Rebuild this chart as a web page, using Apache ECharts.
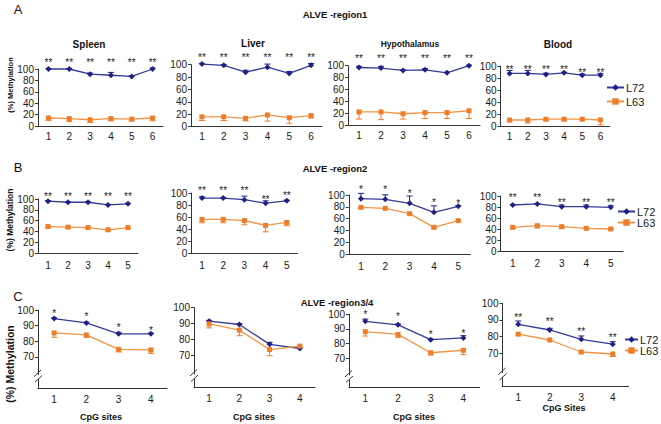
<!DOCTYPE html>
<html><head><meta charset="utf-8">
<script src="https://cdn.jsdelivr.net/npm/echarts@6/dist/echarts.min.js"></script>
<style>html,body{margin:0;padding:0;background:#fff}#c{width:661px;height:424px}</style>
</head><body><div id="c"></div>
<script>
// ---------- categories / labels ----------
const sitesA = ['1','2','3','4','5','6'];
const sitesB = ['1','2','3','4','5'];
const sitesC = ['1','2','3','4'];
const panelTitlesA = ['Spleen','Liver','Hypothalamus','Blood'];
const rowTitles = ['ALVE -region1','ALVE -region2','ALVE -region3/4'];
const rowLetters = ['A','B','C'];
const seriesNames = ['L72','L63'];
const yAxisName = '(%) Methylation';
const xAxisNamesC = ['CpG sites','CpG sites','CpG sites','CpG Sites'];
const ticksC = [70,80,90,100];

// ---------- data: row A (ALVE-region1) ----------
const spleenL72 = [100, 100, 91, 89, 87, 100];
const spleenL72Err = [1, 1, 2, 5, 1, 2];
const spleenL63 = [14, 13, 11, 13, 12, 14];
const spleenL63Err = [4, 5, 5, 4, 3, 5];
const spleenStarY = [116, 116, 116, 116, 116, 116];

const liverL72 = [101, 99, 88, 96, 86, 99];
const liverL72Err = [1, 1, 3, 5, 3, 3];
const liverL63 = [16, 16, 13.5, 19, 14.5, 18];
const liverL63Err = [6, 6, 4, 10, 9, 4];
const liverStarY = [117, 117, 117, 117, 117, 117];

const hypoL72 = [97, 96, 92, 93, 88, 100];
const hypoL72Err = [2, 3, 1, 2, 1, 1];
const hypoL63 = [22, 22, 19, 21, 21, 24];
const hypoL63Err = [12, 13, 9, 10, 10, 13];
const hypoStarY = [118, 118, 118, 118, 118, 118];

const bloodL72 = [87.6, 87.6, 86, 88.6, 84.7, 84.7];
const bloodL72Err = [5, 5, 2, 1, 2, 3];
const bloodL63 = [10, 10, 11.3, 11.3, 11.3, 10];
const bloodL63Err = [3, 5, 2, 2, 1, 8];
const bloodStarY = [100, 100, 100, 100, 95, 95];

// ---------- data: row B (ALVE-region2) ----------
const b1L72 = [96, 94, 94, 89, 91];
const b1L72Err = [1, 1, 1, 1, 1];
const b1L63 = [49, 48, 47, 43, 47];
const b1L63Err = [2, 2, 2, 2, 1];
const b1StarY = [111, 111, 111, 111, 111];

const b2L72 = [91.6, 91.6, 88.8, 83, 87];
const b2L72Err = [2, 1, 6, 4, 1];
const b2L63 = [56, 56, 54, 46, 51];
const b2L63Err = [5.6, 5.6, 7, 10.7, 5.6];
const b2StarY = [109, 109, 109, 94, 101];

const b3L72 = [93.8, 92.7, 85.9, 70.6, 80.8];
const b3L72Err = [9, 7.6, 12.4, 11, 1];
const b3L63 = [79, 77.4, 68.4, 45.2, 56.5];
const b3L63Err = [1, 1, 1, 1, 1];
const b3StarY = [115, 115, 108, 93, 91];

const b4L72 = [83.6, 85.5, 80.6, 80.6, 79.4];
const b4L72Err = [1, 1, 3, 3, 3];
const b4L63 = [43, 46, 44.2, 41.2, 40];
const b4L63Err = [2, 4, 3, 1, 1];
const b4StarY = [102, 102, 94.5, 94.5, 94.5];

// ---------- data: row C (ALVE-region3/4) ----------
const c1L72 = [94.5, 91.7, 84.7, 84.7];
const c1L72Err = [0.5, 0.5, 1, 0.5];
const c1L63 = [85.3, 84, 74.8, 74.4];
const c1L63Err = [2.8, 1.5, 1.7, 2.2];
const c1StarY = [99.6, 98, 90.8, 88.8];

const c2L72 = [91.6, 89.5, 77.1, 74.5];
const c2L72Err = [0.5, 0.5, 1.2, 0.5];
const c2L63 = [89.9, 86, 73.8, 76];
const c2L63Err = [2.5, 3.5, 3.8, 0.5];
const c2StarY = [];

const c3L72 = [95.2, 92.8, 82.7, 83.9];
const c3L72Err = [1.5, 0.5, 0.5, 1.5];
const c3L63 = [88.2, 86.3, 73.8, 75.5];
const c3L63Err = [3, 2, 1.5, 3];
const c3StarY = [101.9, 100.7, 88, 88.7];

const c4L72 = [87.4, 84, 78.4, 75.5];
const c4L72Err = [2, 1, 2, 1.5];
const c4L63 = [81.5, 78, 70.8, 69.6];
const c4L63Err = [0.5, 0.5, 0.5, 1.5];
const c4StarY = [93.3, 90.6, 84.7, 81.2];

const starTexts = ['**','**','**','**','**','**','*','**','*','','*','**'];

// ---------- assembling ----------
const panels = [
  [sitesA, spleenL72, spleenL72Err, spleenL63, spleenL63Err, spleenStarY],
  [sitesA, liverL72, liverL72Err, liverL63, liverL63Err, liverStarY],
  [sitesA, hypoL72, hypoL72Err, hypoL63, hypoL63Err, hypoStarY],
  [sitesA, bloodL72, bloodL72Err, bloodL63, bloodL63Err, bloodStarY],
  [sitesB, b1L72, b1L72Err, b1L63, b1L63Err, b1StarY],
  [sitesB, b2L72, b2L72Err, b2L63, b2L63Err, b2StarY],
  [sitesB, b3L72, b3L72Err, b3L63, b3L63Err, b3StarY],
  [sitesB, b4L72, b4L72Err, b4L63, b4L63Err, b4StarY],
  [sitesC, c1L72, c1L72Err, c1L63, c1L63Err, c1StarY],
  [sitesC, c2L72, c2L72Err, c2L63, c2L63Err, c2StarY],
  [sitesC, c3L72, c3L72Err, c3L63, c3L63Err, c3StarY],
  [sitesC, c4L72, c4L72Err, c4L63, c4L63Err, c4StarY]
];

// layout (pixels)
const gridBoxes = [
  [38,69,125,57],[191,64.7,131,62],[348,65.7,132,59.3],[500.5,66,109,60],
  [38,199,100,54],[191.4,193,106,60],[348.8,195,121.6,59],[500.5,196,122.5,55],
  [38,310,129,78],[194,307.7,121,80],[349,314.3,130.7,73.4],[502.5,303.3,126,83.4]
];
const BLUE = '#353A98', BLUE_D = '#1E2180', ORANGE = '#F39445', ORANGE_D = '#EE7D2A';
const FONT = 'Liberation Sans, Arial, sans-serif';
const TXT = '#1a1a1a';

function errRender(dir, color) {
  return function (params, api) {
    const x = api.value(0), v = api.value(1), e = api.value(2);
    const p0 = api.coord([x, v]);
    const p1 = api.coord([x, v + dir * e]);
    const hw = 3;
    return {type: 'group', children: [
      {type: 'line', shape: {x1: p0[0], y1: p0[1], x2: p1[0], y2: p1[1]}, style: {stroke: color, lineWidth: 1}},
      {type: 'line', shape: {x1: p1[0] - hw, y1: p1[1], x2: p1[0] + hw, y2: p1[1]}, style: {stroke: color, lineWidth: 1}}
    ]};
  };
}

function starRender(text) {
  return function (params, api) {
    const p = api.coord([api.value(0), api.value(1)]);
    return {type: 'text', x: p[0], y: p[1] + 3,
      style: {text: text, fontSize: 10, fontFamily: FONT, fill: '#222',
        align: 'center', verticalAlign: 'middle'}};
  };
}

const grids = [], xAxes = [], yAxes = [], series = [];
panels.forEach((p, i) => {
  const [cats, l72, l72e, l63, l63e, starY] = p;
  const row = Math.floor(i / 4);
  const b = gridBoxes[i];
  grids.push({left: b[0], top: b[1], width: b[2], height: b[3], containLabel: false});
  xAxes.push({
    type: 'category', gridIndex: i, data: cats, boundaryGap: true,
    axisLine: {lineStyle: {color: '#333', width: 1}},
    axisTick: {length: 3, lineStyle: {color: '#333'}},
    axisLabel: {fontSize: 10, color: TXT, fontFamily: FONT, margin: row === 0 ? 5 : (row === 1 ? 7 : 6)}
  });
  const y = {
    type: 'value', gridIndex: i, splitLine: {show: false},
    axisLine: {show: true, lineStyle: {color: '#333', width: 1}},
    axisTick: {show: true, length: 3, lineStyle: {color: '#333'}},
    axisLabel: {fontSize: 10, color: TXT, fontFamily: FONT, margin: 4}
  };
  if (row < 2) { y.min = 0; y.max = 100; y.interval = 20; }
  else {
    y.min = 50; y.max = 100; y.interval = 10;
    y.axisTick.customValues = ticksC;
    y.axisLabel.customValues = ticksC;
  }
  if (i === 1) { y.axisLabel.padding = [14, 0, 0, 0]; }
  yAxes.push(y);

  series.push({type: 'line', name: seriesNames[0], xAxisIndex: i, yAxisIndex: i, data: l72,
    symbol: 'diamond', symbolSize: 6, clip: false, z: 4,
    lineStyle: {color: BLUE, width: 1.3}, itemStyle: {color: BLUE_D}});
  series.push({type: 'line', name: seriesNames[1], xAxisIndex: i, yAxisIndex: i, data: l63,
    symbol: 'rect', symbolSize: 5, clip: false, z: 4,
    lineStyle: {color: ORANGE, width: 1.3}, itemStyle: {color: ORANGE_D}});
  series.push({type: 'custom', name: 'err72', xAxisIndex: i, yAxisIndex: i, clip: false, z: 3,
    renderItem: errRender(1, BLUE_D), encode: {x: 0, y: 1},
    data: l72.map((v, j) => [j, v, l72e[j]])});
  series.push({type: 'custom', name: 'err63', xAxisIndex: i, yAxisIndex: i, clip: false, z: 3,
    renderItem: errRender(-1, ORANGE_D), encode: {x: 0, y: 1},
    data: l63.map((v, j) => [j, v, l63e[j]])});
  if (starY.length) {
    series.push({type: 'custom', name: 'stars', xAxisIndex: i, yAxisIndex: i, clip: false, z: 5,
      silent: true, renderItem: starRender(starTexts[i]), encode: {x: 0, y: 1},
      data: starY.map((v, j) => [j, v])});
  }
});

// ---------- text graphics ----------
const graphics = [];
function txt(text, x, y, size, bold, extra) {
  graphics.push(Object.assign({type: 'text', x: x, y: y, z: 100,
    style: {text: text, fontSize: size, fontWeight: bold ? 'bold' : 'normal', fontFamily: FONT,
      fill: '#111', align: 'center', verticalAlign: 'middle'}}, extra || {}));
}
txt(rowLetters[0], 18, 9, 13, false);
txt(rowLetters[1], 18, 167, 13, false);
txt(rowLetters[2], 18, 296, 13, false);
txt(rowTitles[0], 335, 14, 9.5, true);
txt(rowTitles[1], 335, 168, 9.5, true);
txt(rowTitles[2], 337, 302, 9.5, true);
txt(panelTitlesA[0], 89, 44, 10, true);
txt(panelTitlesA[1], 253, 43, 10, true);
txt(panelTitlesA[2], 410, 44, 8.5, true);
txt(panelTitlesA[3], 558, 44, 10, true);
txt(yAxisName, 10, 85, 7.5, true, {rotation: Math.PI / 2});
txt(yAxisName, 10, 220, 8.5, true, {rotation: Math.PI / 2});
txt(yAxisName, 10, 364, 10.5, true, {rotation: Math.PI / 2});
const cpgX = [101, 254, 414, 564], cpgY = [417, 417, 417, 408];
for (let k = 0; k < 4; k++) txt(xAxisNamesC[k], cpgX[k], cpgY[k], 9, true);

// axis break marks on row C (decorative)
for (let k = 8; k < 12; k++) {
  const b = gridBoxes[k];
  const yb = b[1] + b[3] * (100 - 57) / 50;
  const x = b[0];
  graphics.push({type: 'rect', z: 100, shape: {x: x - 2, y: yb - 2, width: 4, height: 4}, style: {fill: '#fff'}});
  graphics.push({type: 'line', z: 101, shape: {x1: x - 4, y1: yb - 0.5, x2: x + 3, y2: yb - 7}, style: {stroke: '#333', lineWidth: 1}});
  graphics.push({type: 'line', z: 101, shape: {x1: x - 3, y1: yb + 5, x2: x + 4, y2: yb - 1.5}, style: {stroke: '#333', lineWidth: 1}});
}

function legendAt(left, top, gap, w) {
  return {data: seriesNames, orient: 'vertical', left: left, top: top, itemWidth: w, itemHeight: 8,
    itemGap: gap, padding: 0, selectedMode: false,
    textStyle: {fontSize: 11, color: TXT, fontFamily: FONT, padding: [0, 0, 0, -3]}};
}

const chart = echarts.init(document.getElementById('c'), null, {renderer: 'svg'});
chart.setOption({
  animation: false,
  backgroundColor: '#fff',
  grid: grids, xAxis: xAxes, yAxis: yAxes, series: series,
  legend: [legendAt(606, 82, 3, 17), legendAt(617, 206, 0, 17), legendAt(624, 334, 0, 13)],
  graphic: graphics
});
</script></body></html>
